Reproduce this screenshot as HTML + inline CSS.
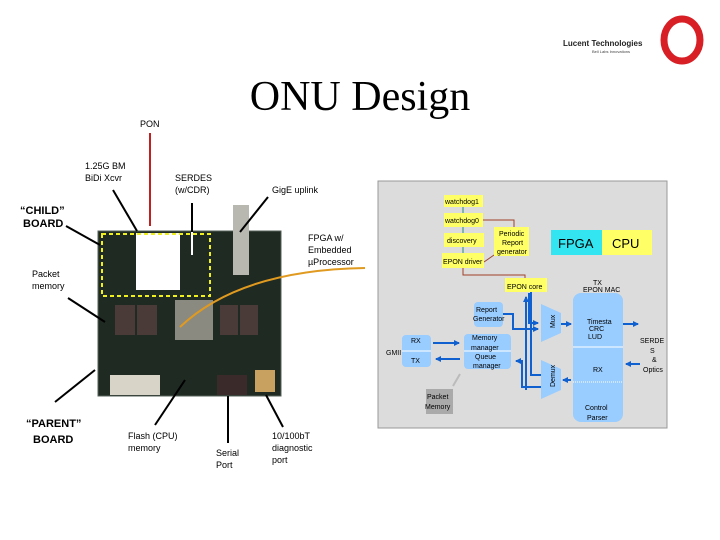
<!DOCTYPE html>
<html><head><meta charset="utf-8"><style>
html,body{margin:0;padding:0;background:#fff;}
svg{display:block;}
text{font-family:"Liberation Sans",sans-serif;}
</style></head><body>
<svg width="720" height="540" viewBox="0 0 720 540" xmlns="http://www.w3.org/2000/svg">
<defs>
<marker id="ab" markerWidth="6" markerHeight="6" refX="5" refY="3" orient="auto" markerUnits="userSpaceOnUse"><path d="M0,0 L6,3 L0,6z" fill="#1060d0"/></marker>
<marker id="ak" markerWidth="6" markerHeight="6" refX="5" refY="3" orient="auto" markerUnits="userSpaceOnUse"><path d="M0,0 L6,3 L0,6z" fill="#e09a20"/></marker>
</defs>
<!-- logo -->
<text x="563" y="46" font-size="8" font-weight="bold" fill="#222">Lucent Technologies</text>
<text x="592" y="53" font-size="4" fill="#444">Bell Labs Innovations</text>
<ellipse cx="682" cy="40" rx="18" ry="21" fill="none" stroke="#d81f26" stroke-width="7"/>
<!-- title -->
<text x="360" y="110" font-family="Liberation Serif,serif" font-size="42" text-anchor="middle" fill="#000" style="font-family:'Liberation Serif',serif">ONU Design</text>
<text x="140" y="127" font-size="9">PON</text>
<text x="85" y="169" font-size="9">1.25G BM</text>
<text x="85" y="181" font-size="9">BiDi Xcvr</text>
<text x="175" y="181" font-size="9">SERDES</text>
<text x="175" y="193" font-size="9">(w/CDR)</text>
<text x="272" y="193" font-size="9">GigE uplink</text>
<text x="20" y="214" font-size="11" font-weight="bold">“CHILD”</text>
<text x="23" y="227" font-size="11" font-weight="bold">BOARD</text>
<text x="32" y="277" font-size="9">Packet</text>
<text x="32" y="289" font-size="9">memory</text>
<text x="308" y="241" font-size="9">FPGA w/</text>
<text x="308" y="253" font-size="9">Embedded</text>
<text x="308" y="265" font-size="9">µProcessor</text>
<text x="26" y="427" font-size="11" font-weight="bold">“PARENT”</text>
<text x="33" y="443" font-size="11" font-weight="bold">BOARD</text>
<text x="128" y="439" font-size="9">Flash (CPU)</text>
<text x="128" y="451" font-size="9">memory</text>
<text x="216" y="456" font-size="9">Serial</text>
<text x="216" y="468" font-size="9">Port</text>
<text x="272" y="439" font-size="9">10/100bT</text>
<text x="272" y="451" font-size="9">diagnostic</text>
<text x="272" y="463" font-size="9">port</text>
<!-- board -->
<rect x="98" y="231" width="183" height="165" fill="#1e2a22"/>
<rect x="98" y="231" width="183" height="165" fill="none" stroke="#55605a" stroke-width="1"/>
<rect x="175" y="300" width="38" height="40" fill="#8a8a80"/>
<rect x="115" y="305" width="20" height="30" fill="#4a3a38"/>
<rect x="137" y="305" width="20" height="30" fill="#4a3a38"/>
<rect x="220" y="305" width="18" height="30" fill="#4a3a38"/>
<rect x="240" y="305" width="18" height="30" fill="#4a3a38"/>
<rect x="110" y="375" width="50" height="20" fill="#d8d4c8"/>
<rect x="217" y="375" width="30" height="20" fill="#3a2a2a"/>
<rect x="255" y="370" width="20" height="22" fill="#c8a060"/>
<rect x="233" y="205" width="16" height="70" fill="#b8b8b0"/>
<rect x="136" y="233" width="44" height="57" fill="#fff"/>
<rect x="102" y="234" width="108" height="62" fill="none" stroke="#f0f020" stroke-width="2" stroke-dasharray="4,3"/>
<line x1="150" y1="133" x2="150" y2="226" stroke="#c02020" stroke-width="2"/>
<!-- pointer lines -->
<g stroke="#000" stroke-width="2">
<line x1="113" y1="190" x2="137" y2="231"/>
<line x1="192" y1="203" x2="192" y2="255" stroke="#fff"/>
<line x1="192" y1="203" x2="192" y2="232"/>
<line x1="268" y1="197" x2="240" y2="232"/>
<line x1="66" y1="226" x2="100" y2="245"/>
<line x1="68" y1="298" x2="105" y2="322"/>
<line x1="55" y1="402" x2="95" y2="370"/>
<line x1="155" y1="425" x2="185" y2="380"/>
<line x1="228" y1="443" x2="228" y2="396"/>
<line x1="283" y1="427" x2="266" y2="395"/>
</g>
<path d="M180 327 Q240 270 365 268" fill="none" stroke="#e09a20" stroke-width="2" marker-start="ak"/>
<!-- panel -->
<rect x="378" y="181" width="289" height="247" fill="#dcdcdc" stroke="#999" stroke-width="1"/>
<g stroke="#2a8a7a" stroke-width="1"><line x1="463" y1="207" x2="463" y2="253"/></g>
<g fill="none" stroke="#a0402a" stroke-width="1">
<path d="M483 220 H514 V227"/><path d="M484 262 L494 255"/><path d="M463 268 V275 H525 V278"/>
</g>
<g fill="#ffff66">
<rect x="444" y="195" width="39" height="12"/><rect x="444" y="213" width="39" height="14"/>
<rect x="444" y="233" width="40" height="14"/><rect x="442" y="253" width="42" height="15"/>
<rect x="494" y="227" width="35" height="29"/><rect x="505" y="278" width="42" height="14"/>
<rect x="602" y="230" width="50" height="25"/>
</g>
<rect x="551" y="230" width="51" height="25" fill="#33e5f0"/>
<g font-size="7" fill="#000">
<text x="445" y="204">watchdog1</text><text x="445" y="223">watchdog0</text>
<text x="447" y="243">discovery</text><text x="443" y="264">EPON driver</text>
<text x="499" y="236">Periodic</text><text x="502" y="245">Report</text><text x="497" y="254">generator</text>
<text x="507" y="289">EPON core</text>
</g>
<text x="558" y="248" font-size="13">FPGA</text><text x="612" y="248" font-size="13">CPU</text>
<g fill="#99ccff">
<rect x="474" y="302" width="29" height="25" rx="4"/>
<rect x="402" y="335" width="29" height="32" rx="4"/>
<rect x="464" y="334" width="47" height="35" rx="4"/>
<rect x="573" y="293" width="50" height="129" rx="8"/>
<path d="M541 304 L561 313 L561 333 L541 342z"/>
<path d="M541 360 L561 369 L561 390 L541 399z"/>
</g>
<g stroke="#fff" stroke-width="1"><line x1="402" y1="351" x2="431" y2="351"/><line x1="464" y1="351" x2="511" y2="351"/><line x1="573" y1="347" x2="623" y2="347"/><line x1="573" y1="382" x2="623" y2="382" stroke-dasharray="1,1"/></g>
<rect x="426" y="389" width="27" height="25" fill="#aaa"/>
<g stroke="#1060d0" stroke-width="2" fill="none">
<path d="M433 343 H459" marker-end="url(#ab)"/>
<path d="M460 359 H436" marker-end="url(#ab)"/>
<path d="M503 314 H513 V329 H538" marker-end="url(#ab)"/>
<path d="M529 293 V323 H538" marker-end="url(#ab)"/>
<path d="M526 390 V297" marker-end="url(#ab)"/>
<path d="M541 375 H531 V292"/>
<path d="M541 387 H522 V361 H516" marker-end="url(#ab)"/>
<path d="M561 324 H571" marker-end="url(#ab)"/>
<path d="M571 380 H563" marker-end="url(#ab)"/>
<path d="M623 324 H638" marker-end="url(#ab)"/>
<path d="M640 364 H626" marker-end="url(#ab)"/>
</g>
<line x1="460" y1="374" x2="453" y2="386" stroke="#bbb" stroke-width="2"/>
<g font-size="7" fill="#000">
<text x="476" y="312">Report</text><text x="473" y="321">Generator</text>
<text x="411" y="343">RX</text><text x="411" y="363">TX</text><text x="386" y="355">GMII</text>
<text x="472" y="340">Memory</text><text x="471" y="350">manager</text><text x="475" y="359">Queue</text><text x="473" y="368">manager</text>
<text x="427" y="399">Packet</text><text x="425" y="409">Memory</text>
<text x="593" y="285">TX</text><text x="583" y="292">EPON MAC</text>
<text x="587" y="324">Timesta</text><text x="589" y="331">CRC</text><text x="588" y="339">LUD</text>
<text x="593" y="372">RX</text>
<text x="585" y="410">Control</text><text x="587" y="420">Parser</text>
<text x="640" y="343">SERDE</text><text x="650" y="353">S</text><text x="652" y="362">&amp;</text><text x="643" y="372">Optics</text>
</g>
<text transform="translate(555,328) rotate(-90)" font-size="7">Mux</text>
<text transform="translate(555,387) rotate(-90)" font-size="7">Demux</text>
</svg>
</body></html>
